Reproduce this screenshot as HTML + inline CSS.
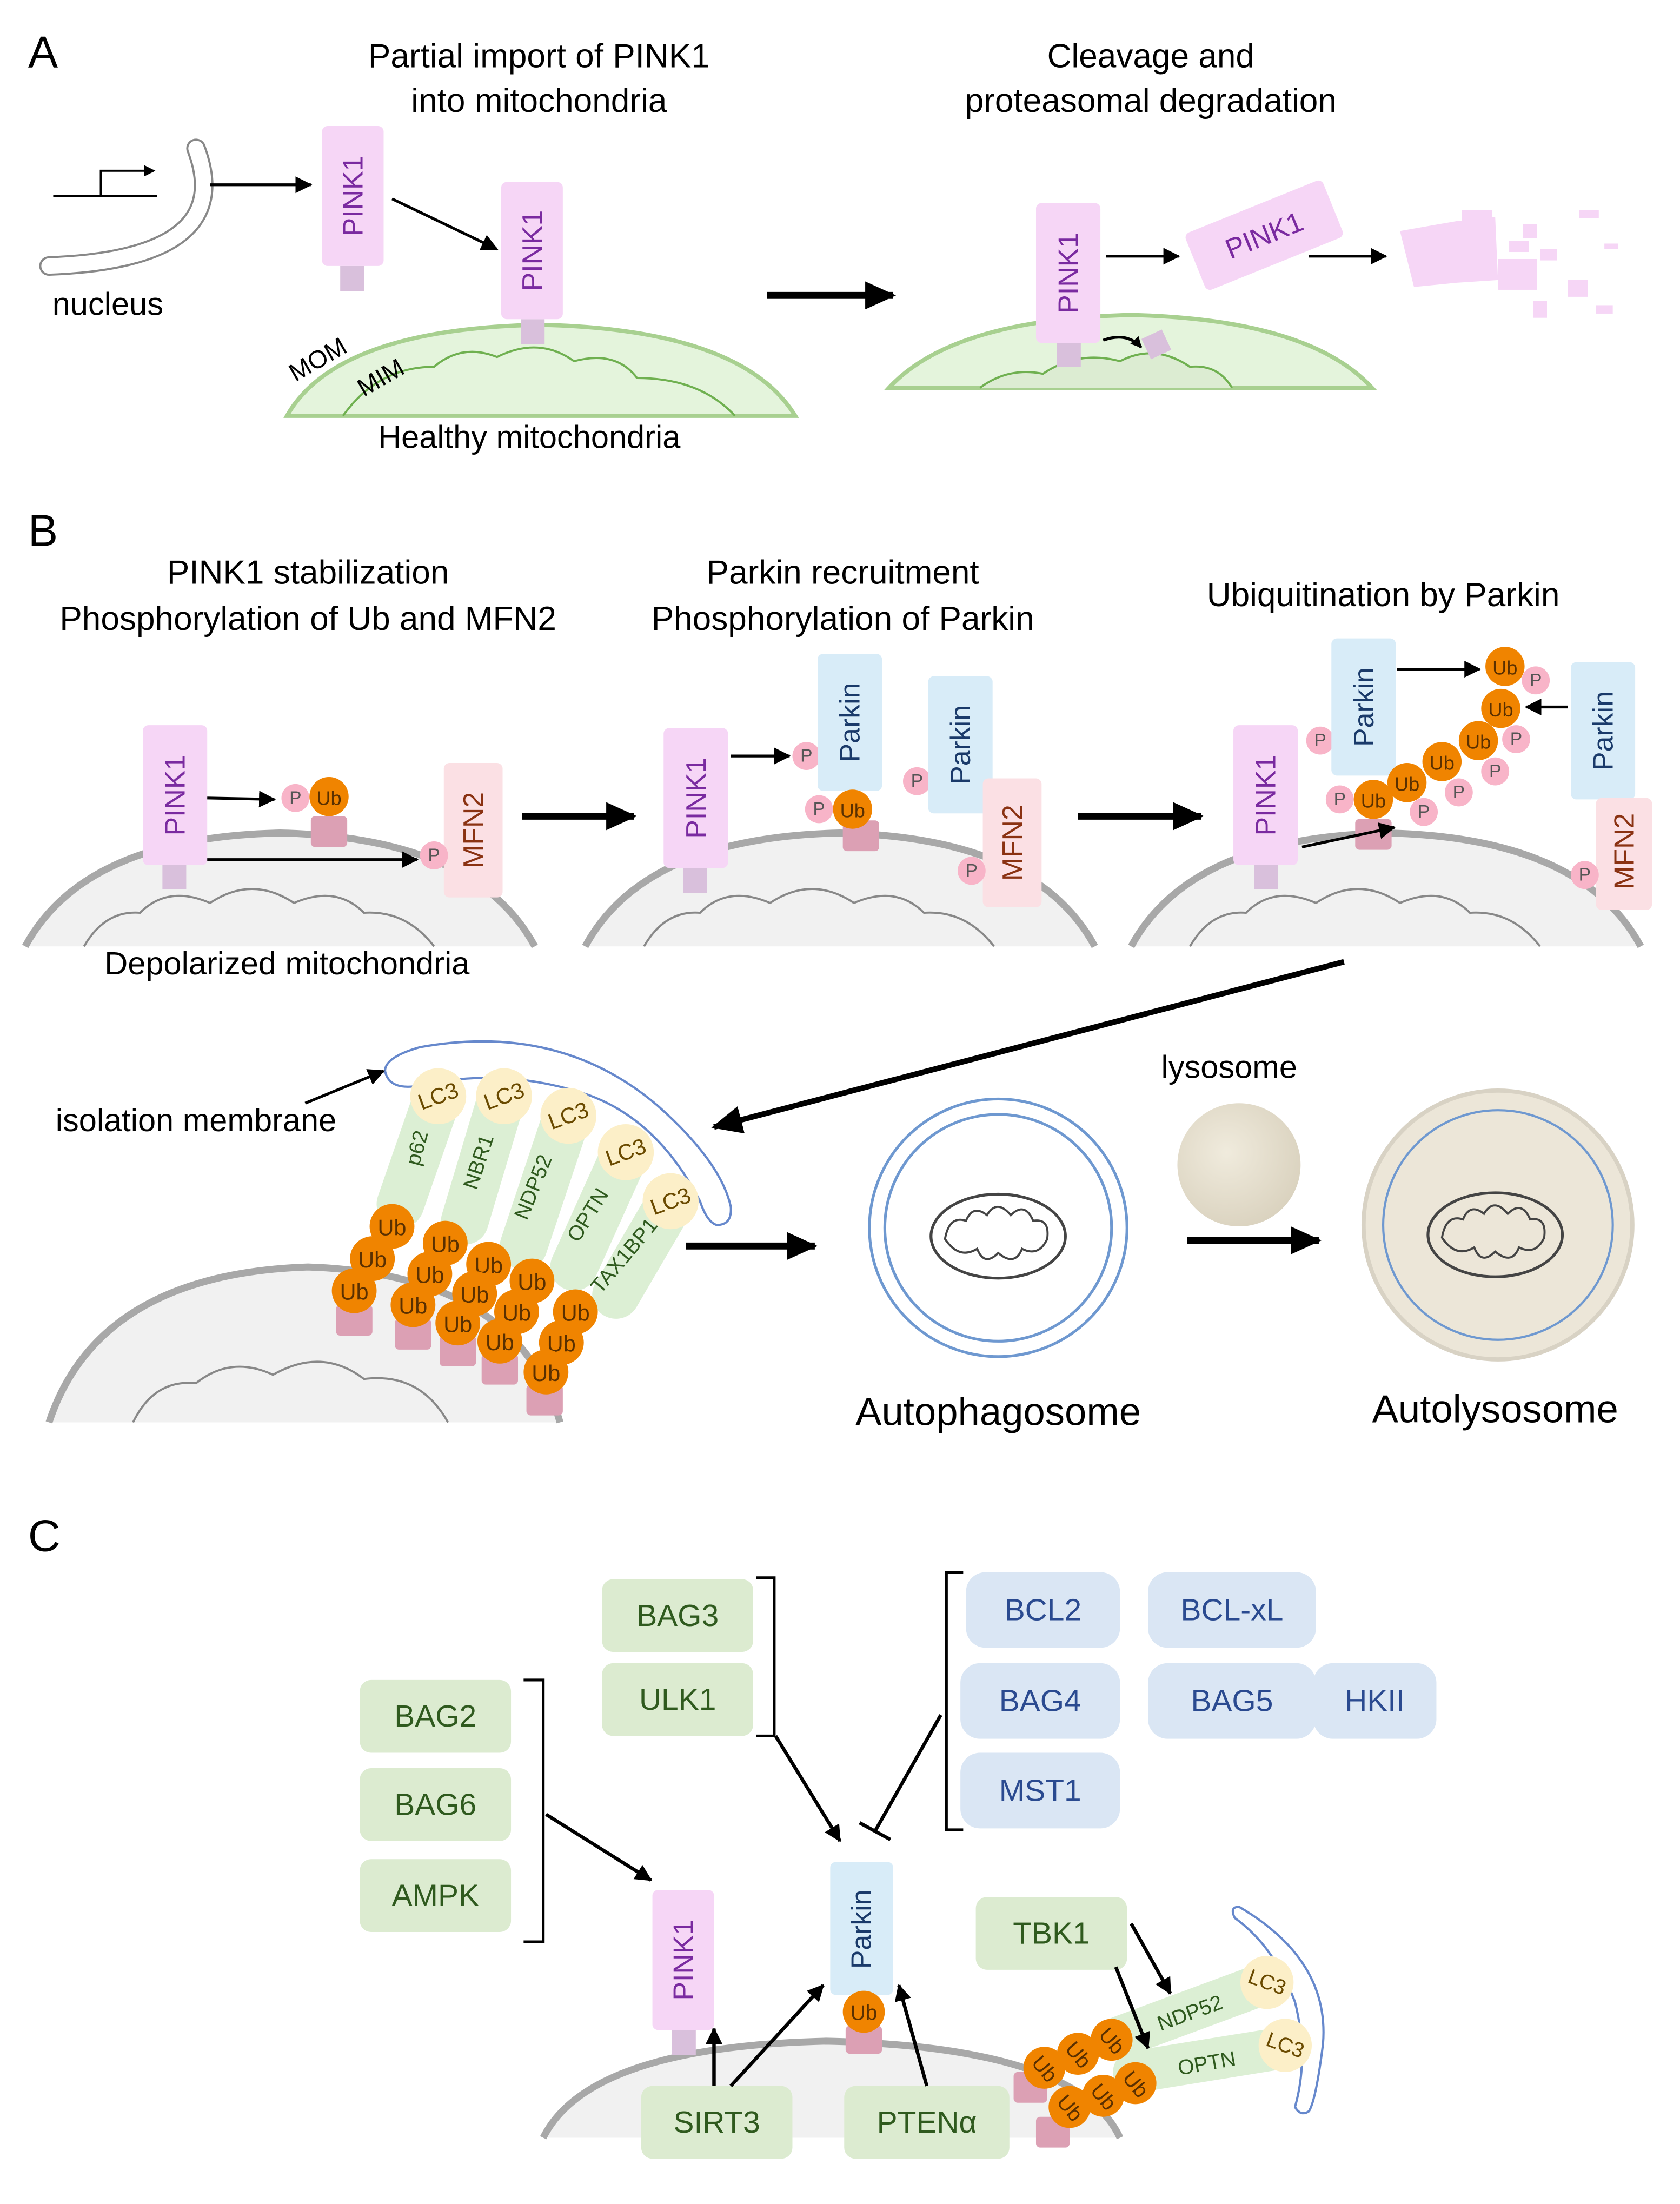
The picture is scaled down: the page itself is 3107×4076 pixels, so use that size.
<!DOCTYPE html>
<html><head><meta charset="utf-8"><style>
html,body{margin:0;padding:0;background:#fff}
svg{display:block}
text{font-family:"Liberation Sans",Arial,sans-serif}
</style></head><body>
<svg xmlns="http://www.w3.org/2000/svg" width="3107" height="4076" viewBox="0 0 1200 1574.3">
<defs>
<marker id="ah" markerWidth="8" markerHeight="8" refX="7" refY="4" orient="auto" markerUnits="userSpaceOnUse" viewBox="0 0 8 8"><path d="M0,0 L8,4 L0,8 z" fill="#000"/></marker>
<marker id="ahs" markerWidth="12" markerHeight="12" refX="11" refY="6" orient="auto" markerUnits="userSpaceOnUse" viewBox="0 0 12 12"><path d="M0,0 L12,6 L0,12 z" fill="#000"/></marker>
<marker id="ahb" markerWidth="22" markerHeight="20" refX="20" refY="10" orient="auto" markerUnits="userSpaceOnUse" viewBox="0 0 22 20"><path d="M0,0 L22,10 L0,20 z" fill="#000"/></marker>
<radialGradient id="lys" cx="0.4" cy="0.4" r="0.7"><stop offset="0" stop-color="#f0ebdd"/><stop offset="1" stop-color="#d8d0bc"/></radialGradient>
</defs>

<!-- ========== PANEL A ========== -->
<text x="20" y="48" font-size="32">A</text>
<text x="385" y="48" font-size="24" text-anchor="middle">Partial import of PINK1</text>
<text x="385" y="80" font-size="24" text-anchor="middle">into mitochondria</text>
<text x="822" y="48" font-size="24" text-anchor="middle">Cleavage and</text>
<text x="822" y="80" font-size="24" text-anchor="middle">proteasomal degradation</text>

<line x1="38" y1="140" x2="112" y2="140" stroke="#000" stroke-width="1.5"/>
<path d="M72,140 V122 H110" fill="none" stroke="#000" stroke-width="1.5" marker-end="url(#ah)"/>
<path d="M140,106 Q170,185 35,190" fill="none" stroke="#888" stroke-width="14" stroke-linecap="round"/>
<path d="M140,106 Q170,185 35,190" fill="none" stroke="#fff" stroke-width="11" stroke-linecap="round"/>
<text x="77" y="225" font-size="23" text-anchor="middle">nucleus</text>
<line x1="150" y1="132" x2="222" y2="132" stroke="#000" stroke-width="2" marker-end="url(#ahs)"/>

<path d="M205,297 Q240,235 385,232 Q530,235 568,297 Z" fill="#e4f4dc" stroke="#a8d090" stroke-width="3"/>
<path d="M245,297 Q270,262 310,262 Q330,245 355,255 Q385,240 410,258 Q440,250 455,270 Q500,270 525,297" fill="none" stroke="#6fb050" stroke-width="1.5"/>
<text x="230" y="262" font-size="18" transform="rotate(-30 230 262)" text-anchor="middle">MOM</text>
<text x="275" y="275" font-size="18" transform="rotate(-30 275 275)" text-anchor="middle">MIM</text>
<text x="378" y="320" font-size="23" text-anchor="middle">Healthy mitochondria</text>

<rect x="243" y="190" width="17" height="18" fill="#d9c0dc"/>
<rect x="230" y="90" width="44" height="100" rx="4" fill="#f6d6f6"/>
<text x="252" y="140" font-size="20" fill="#7a2aa0" text-anchor="middle" dominant-baseline="central" transform="rotate(-90 252 140)">PINK1</text>
<line x1="280" y1="142" x2="355" y2="178" stroke="#000" stroke-width="2" marker-end="url(#ahs)"/>
<rect x="372" y="228" width="17" height="18" fill="#d9c0dc"/>
<rect x="358" y="130" width="44" height="98" rx="4" fill="#f6d6f6"/>
<text x="380" y="179" font-size="20" fill="#7a2aa0" text-anchor="middle" dominant-baseline="central" transform="rotate(-90 380 179)">PINK1</text>

<line x1="548" y1="211" x2="638" y2="211" stroke="#000" stroke-width="5" marker-end="url(#ahb)"/>

<path d="M635,277 Q680,228 808,225 Q935,228 980,277 Z" fill="#e4f4dc" stroke="#a8d090" stroke-width="3"/>
<path d="M700,277 Q720,262 745,267 Q770,250 800,258 Q825,245 850,262 Q870,260 880,277" fill="#dcecd2" stroke="#6fb050" stroke-width="1.5"/>
<rect x="755" y="245" width="17" height="17" fill="#d9c0dc"/>
<rect x="740" y="145" width="46" height="100" rx="4" fill="#f6d6f6"/>
<text x="763" y="195" font-size="20" fill="#7a2aa0" text-anchor="middle" dominant-baseline="central" transform="rotate(-90 763 195)">PINK1</text>
<rect x="818" y="238" width="16" height="16" fill="#d9c0dc" transform="rotate(-25 826 246)"/>
<path d="M788,243 Q805,237 815,248" fill="none" stroke="#000" stroke-width="2" marker-end="url(#ah)"/>
<line x1="790" y1="183" x2="842" y2="183" stroke="#000" stroke-width="2" marker-end="url(#ahs)"/>
<g transform="rotate(-22 903 168)"><rect x="850" y="146" width="106" height="44" rx="4" fill="#f6d6f6"/>
<text x="903" y="168" font-size="20" fill="#7a2aa0" text-anchor="middle" dominant-baseline="central">PINK1</text></g>
<line x1="935" y1="183" x2="990" y2="183" stroke="#000" stroke-width="2" marker-end="url(#ahs)"/>
<g fill="#f6d6f6">
<path d="M1000,165 L1040,158 L1068,155 L1070,200 L1040,202 L1010,205 Z"/>
<rect x="1044" y="150" width="22" height="14"/>
<rect x="1070" y="185" width="28" height="22"/>
<rect x="1088" y="160" width="10" height="10"/>
<rect x="1100" y="178" width="12" height="8"/>
<rect x="1120" y="200" width="14" height="12"/>
<rect x="1128" y="150" width="14" height="6"/>
<rect x="1095" y="215" width="10" height="12"/>
<rect x="1140" y="218" width="12" height="6"/>
<rect x="1146" y="174" width="10" height="4"/>
<rect x="1078" y="172" width="14" height="8"/>
</g>

<!-- ========== PANEL B ========== -->
<text x="20" y="390" font-size="32">B</text>
<text x="220" y="417" font-size="24" text-anchor="middle">PINK1 stabilization</text>
<text x="220" y="450" font-size="24" text-anchor="middle">Phosphorylation of Ub and MFN2</text>
<text x="602" y="417" font-size="24" text-anchor="middle">Parkin recruitment</text>
<text x="602" y="450" font-size="24" text-anchor="middle">Phosphorylation of Parkin</text>
<text x="988" y="433" font-size="24" text-anchor="middle">Ubiquitination by Parkin</text>

<g fill="#f1f1f1" stroke="#a8a8a8" stroke-width="5">
<path d="M18,676 Q60,598 200,595 Q340,598 382,676"/>
<path d="M418,676 Q460,598 600,595 Q740,598 782,676"/>
<path d="M808,676 Q850,598 990,595 Q1130,598 1172,676"/>
</g>
<g fill="none" stroke="#888" stroke-width="1.5">
<path d="M60,676 Q75,650 100,652 Q120,632 150,645 Q180,625 210,645 Q240,632 260,652 Q290,650 310,676"/>
<path d="M460,676 Q475,650 500,652 Q520,632 550,645 Q580,625 610,645 Q640,632 660,652 Q690,650 710,676"/>
<path d="M850,676 Q865,650 890,652 Q910,632 940,645 Q970,625 1000,645 Q1030,632 1050,652 Q1080,650 1100,676"/>
</g>
<text x="205" y="696" font-size="23" text-anchor="middle">Depolarized mitochondria</text>

<rect x="116" y="617" width="17" height="18" fill="#d9c0dc"/>
<rect x="102" y="518" width="46" height="100" rx="4" fill="#f6d6f6"/>
<text x="125" y="568" font-size="20" fill="#7a2aa0" text-anchor="middle" dominant-baseline="central" transform="rotate(-90 125 568)">PINK1</text>
<line x1="148" y1="570" x2="196" y2="571" stroke="#000" stroke-width="2" marker-end="url(#ahs)"/>
<rect x="222" y="583" width="26" height="22" rx="3" fill="#dca0b4"/>
<circle cx="211" cy="570" r="10" fill="#f8b4c8"/><text x="211" y="570" font-size="13" fill="#555" text-anchor="middle" dominant-baseline="central">P</text>
<circle cx="235" cy="569" r="14" fill="#f08400"/><text x="235" y="570" font-size="14" fill="#5a3000" text-anchor="middle" dominant-baseline="central">Ub</text>
<line x1="148" y1="614" x2="298" y2="614" stroke="#000" stroke-width="2" marker-end="url(#ahs)"/>
<rect x="317" y="545" width="42" height="96" rx="4" fill="#fbe0e4"/>
<text x="338" y="593" font-size="20" fill="#8a3212" text-anchor="middle" dominant-baseline="central" transform="rotate(-90 338 593)">MFN2</text>
<circle cx="310" cy="611" r="10" fill="#f8b4c8"/><text x="310" y="611" font-size="13" fill="#555" text-anchor="middle" dominant-baseline="central">P</text>

<line x1="373" y1="583" x2="453" y2="583" stroke="#000" stroke-width="5" marker-end="url(#ahb)"/>

<rect x="488" y="620" width="17" height="18" fill="#d9c0dc"/>
<rect x="474" y="520" width="46" height="100" rx="4" fill="#f6d6f6"/>
<text x="497" y="570" font-size="20" fill="#7a2aa0" text-anchor="middle" dominant-baseline="central" transform="rotate(-90 497 570)">PINK1</text>
<line x1="522" y1="540" x2="564" y2="540" stroke="#000" stroke-width="2" marker-end="url(#ahs)"/>
<circle cx="576" cy="540" r="10" fill="#f8b4c8"/><text x="576" y="540" font-size="13" fill="#555" text-anchor="middle" dominant-baseline="central">P</text>
<rect x="584" y="467" width="46" height="98" rx="4" fill="#d8ecf8"/>
<text x="607" y="516" font-size="20" fill="#1a3a6a" text-anchor="middle" dominant-baseline="central" transform="rotate(-90 607 516)">Parkin</text>
<rect x="602" y="586" width="26" height="22" rx="3" fill="#dca0b4"/>
<circle cx="585" cy="578" r="10" fill="#f8b4c8"/><text x="585" y="578" font-size="13" fill="#555" text-anchor="middle" dominant-baseline="central">P</text>
<circle cx="609" cy="578" r="14" fill="#f08400"/><text x="609" y="579" font-size="14" fill="#5a3000" text-anchor="middle" dominant-baseline="central">Ub</text>
<circle cx="655" cy="558" r="10" fill="#f8b4c8"/><text x="655" y="558" font-size="13" fill="#555" text-anchor="middle" dominant-baseline="central">P</text>
<rect x="663" y="483" width="46" height="98" rx="4" fill="#d8ecf8"/>
<text x="686" y="532" font-size="20" fill="#1a3a6a" text-anchor="middle" dominant-baseline="central" transform="rotate(-90 686 532)">Parkin</text>
<rect x="702" y="556" width="42" height="92" rx="4" fill="#fbe0e4"/>
<text x="723" y="602" font-size="20" fill="#8a3212" text-anchor="middle" dominant-baseline="central" transform="rotate(-90 723 602)">MFN2</text>
<circle cx="694" cy="622" r="10" fill="#f8b4c8"/><text x="694" y="622" font-size="13" fill="#555" text-anchor="middle" dominant-baseline="central">P</text>

<line x1="770" y1="583" x2="858" y2="583" stroke="#000" stroke-width="5" marker-end="url(#ahb)"/>

<rect x="896" y="617" width="17" height="18" fill="#d9c0dc"/>
<rect x="881" y="518" width="46" height="100" rx="4" fill="#f6d6f6"/>
<text x="904" y="568" font-size="20" fill="#7a2aa0" text-anchor="middle" dominant-baseline="central" transform="rotate(-90 904 568)">PINK1</text>
<rect x="968" y="585" width="26" height="22" rx="3" fill="#dca0b4"/>
<line x1="930" y1="605" x2="996" y2="591" stroke="#000" stroke-width="2" marker-end="url(#ahs)"/>
<circle cx="943" cy="529" r="10" fill="#f8b4c8"/><text x="943" y="529" font-size="13" fill="#555" text-anchor="middle" dominant-baseline="central">P</text>
<rect x="951" y="456" width="46" height="98" rx="4" fill="#d8ecf8"/>
<text x="974" y="505" font-size="20" fill="#1a3a6a" text-anchor="middle" dominant-baseline="central" transform="rotate(-90 974 505)">Parkin</text>
<line x1="998" y1="478" x2="1057" y2="478" stroke="#000" stroke-width="2" marker-end="url(#ahs)"/>
<rect x="1122" y="473" width="46" height="98" rx="4" fill="#d8ecf8"/>
<text x="1145" y="522" font-size="20" fill="#1a3a6a" text-anchor="middle" dominant-baseline="central" transform="rotate(-90 1145 522)">Parkin</text>
<line x1="1120" y1="505" x2="1090" y2="505" stroke="#000" stroke-width="2" marker-end="url(#ahs)"/>
<rect x="1140" y="570" width="40" height="80" rx="4" fill="#fbe0e4"/>
<text x="1160" y="608" font-size="20" fill="#8a3212" text-anchor="middle" dominant-baseline="central" transform="rotate(-90 1160 608)">MFN2</text>
<circle cx="1132" cy="625" r="10" fill="#f8b4c8"/><text x="1132" y="625" font-size="13" fill="#555" text-anchor="middle" dominant-baseline="central">P</text>
<g font-size="13" fill="#555" text-anchor="middle" dominant-baseline="central">
<circle cx="1097" cy="486" r="10" fill="#f8b4c8"/><text x="1097" y="486">P</text>
<circle cx="1083" cy="528" r="10" fill="#f8b4c8"/><text x="1083" y="528">P</text>
<circle cx="1068" cy="551" r="10" fill="#f8b4c8"/><text x="1068" y="551">P</text>
<circle cx="1042" cy="566" r="10" fill="#f8b4c8"/><text x="1042" y="566">P</text>
<circle cx="1017" cy="580" r="10" fill="#f8b4c8"/><text x="1017" y="580">P</text>
<circle cx="957" cy="571" r="10" fill="#f8b4c8"/><text x="957" y="571">P</text>
</g>
<g font-size="14" fill="#5a3000" text-anchor="middle" dominant-baseline="central">
<circle cx="1075" cy="476" r="14" fill="#f08400"/><text x="1075" y="477">Ub</text>
<circle cx="1072" cy="506" r="14" fill="#f08400"/><text x="1072" y="507">Ub</text>
<circle cx="1056" cy="529" r="14" fill="#f08400"/><text x="1056" y="530">Ub</text>
<circle cx="1030" cy="544" r="14" fill="#f08400"/><text x="1030" y="545">Ub</text>
<circle cx="1005" cy="559" r="14" fill="#f08400"/><text x="1005" y="560">Ub</text>
<circle cx="981" cy="571" r="14" fill="#f08400"/><text x="981" y="572">Ub</text>
</g>

<line x1="960" y1="687" x2="510" y2="805" stroke="#000" stroke-width="4" marker-end="url(#ahb)"/>

<path d="M35,1016 Q70,910 220,905 Q370,910 400,1016" fill="#f1f1f1" stroke="#a8a8a8" stroke-width="5"/>
<path d="M95,1016 Q110,985 140,988 Q165,968 195,982 Q230,962 260,985 Q300,980 320,1016" fill="none" stroke="#888" stroke-width="1.5"/>

<path d="M275,765 Q275,755 300,748 Q400,730 470,790 Q515,830 522,862 Q523,875 512,875 Q505,873 500,858 Q470,800 420,782 Q360,762 302,775 Q278,780 275,765 Z" fill="none" stroke="#6688cc" stroke-width="1.6"/>
<text x="140" y="808" font-size="23" text-anchor="middle">isolation membrane</text>
<line x1="218" y1="788" x2="274" y2="765" stroke="#000" stroke-width="2" marker-end="url(#ahs)"/>

<g stroke="#dcefd4" stroke-width="34" stroke-linecap="round">
<line x1="286" y1="860" x2="312" y2="785"/>
<line x1="332" y1="872" x2="358" y2="785"/>
<line x1="374" y1="890" x2="404" y2="800"/>
<line x1="410" y1="905" x2="446" y2="825"/>
<line x1="440" y1="925" x2="478" y2="860"/>
</g>
<g font-size="15" fill="#2f5a1e" text-anchor="middle" dominant-baseline="central">
<text x="298" y="820" transform="rotate(-75 298 820)">p62</text>
<text x="342" y="830" transform="rotate(-72 342 830)">NBR1</text>
<text x="381" y="848" transform="rotate(-68 381 848)">NDP52</text>
<text x="420" y="868" transform="rotate(-58 420 868)">OPTN</text>
<text x="446" y="897" transform="rotate(-50 446 897)">TAX1BP1</text>
</g>
<g font-size="16" fill="#6a4a00" text-anchor="middle" dominant-baseline="central">
<circle cx="313" cy="783" r="20" fill="#fcefc8"/><text x="313" y="783" transform="rotate(-20 313 783)">LC3</text>
<circle cx="360" cy="783" r="20" fill="#fcefc8"/><text x="360" y="783" transform="rotate(-20 360 783)">LC3</text>
<circle cx="406" cy="797" r="20" fill="#fcefc8"/><text x="406" y="797" transform="rotate(-20 406 797)">LC3</text>
<circle cx="447" cy="823" r="20" fill="#fcefc8"/><text x="447" y="823" transform="rotate(-20 447 823)">LC3</text>
<circle cx="479" cy="858" r="20" fill="#fcefc8"/><text x="479" y="858" transform="rotate(-20 479 858)">LC3</text>
</g>
<g fill="#dca0b4">
<rect x="240" y="932" width="26" height="22" rx="3"/>
<rect x="282" y="942" width="26" height="22" rx="3"/>
<rect x="314" y="954" width="26" height="22" rx="3"/>
<rect x="344" y="967" width="26" height="22" rx="3"/>
<rect x="376" y="989" width="26" height="22" rx="3"/>
</g>
<g font-size="16" fill="#5a3000" text-anchor="middle" dominant-baseline="central">
<circle cx="280" cy="876" r="16" fill="#f08400"/><text x="280" y="877">Ub</text>
<circle cx="266" cy="899" r="16" fill="#f08400"/><text x="266" y="900">Ub</text>
<circle cx="253" cy="922" r="16" fill="#f08400"/><text x="253" y="923">Ub</text>
<circle cx="318" cy="888" r="16" fill="#f08400"/><text x="318" y="889">Ub</text>
<circle cx="307" cy="910" r="16" fill="#f08400"/><text x="307" y="911">Ub</text>
<circle cx="295" cy="932" r="16" fill="#f08400"/><text x="295" y="933">Ub</text>
<circle cx="349" cy="903" r="16" fill="#f08400"/><text x="349" y="904">Ub</text>
<circle cx="339" cy="924" r="16" fill="#f08400"/><text x="339" y="925">Ub</text>
<circle cx="327" cy="945" r="16" fill="#f08400"/><text x="327" y="946">Ub</text>
<circle cx="380" cy="915" r="16" fill="#f08400"/><text x="380" y="916">Ub</text>
<circle cx="369" cy="937" r="16" fill="#f08400"/><text x="369" y="938">Ub</text>
<circle cx="357" cy="958" r="16" fill="#f08400"/><text x="357" y="959">Ub</text>
<circle cx="411" cy="937" r="16" fill="#f08400"/><text x="411" y="938">Ub</text>
<circle cx="401" cy="959" r="16" fill="#f08400"/><text x="401" y="960">Ub</text>
<circle cx="390" cy="980" r="16" fill="#f08400"/><text x="390" y="981">Ub</text>
</g>

<line x1="490" y1="890" x2="582" y2="890" stroke="#000" stroke-width="5" marker-end="url(#ahb)"/>

<circle cx="713" cy="877" r="92" fill="#fff" stroke="#6e98d0" stroke-width="2"/>
<circle cx="713" cy="877" r="81" fill="#fff" stroke="#6e98d0" stroke-width="2"/>
<ellipse cx="713" cy="883" rx="48" ry="30" fill="#fff" stroke="#444" stroke-width="2"/>
<path d="M675,885 Q678,868 690,872 Q695,860 705,868 Q712,856 722,868 Q732,858 738,872 Q750,870 748,885 Q742,898 730,892 Q725,905 713,895 Q703,905 698,892 Q685,900 675,885 Z" fill="none" stroke="#444" stroke-width="1.5"/>
<text x="713" y="1018" font-size="28" text-anchor="middle">Autophagosome</text>

<text x="878" y="770" font-size="23" text-anchor="middle">lysosome</text>
<circle cx="885" cy="832" r="44" fill="url(#lys)"/>
<line x1="848" y1="886" x2="942" y2="886" stroke="#000" stroke-width="5" marker-end="url(#ahb)"/>

<circle cx="1070" cy="875" r="96" fill="#ece6d8" stroke="#d8d2c4" stroke-width="3"/>
<circle cx="1070" cy="875" r="82" fill="#ece6d8" stroke="#6e98d0" stroke-width="1.6"/>
<ellipse cx="1068" cy="882" rx="48" ry="30" fill="none" stroke="#444" stroke-width="2"/>
<path d="M1030,884 Q1033,867 1045,871 Q1050,859 1060,867 Q1067,855 1077,867 Q1087,857 1093,871 Q1105,869 1103,884 Q1097,897 1085,891 Q1080,904 1068,894 Q1058,904 1053,891 Q1040,899 1030,884 Z" fill="none" stroke="#444" stroke-width="1.5"/>
<text x="1068" y="1016" font-size="28" text-anchor="middle">Autolysosome</text>

<!-- ========== PANEL C ========== -->
<text x="20" y="1108" font-size="32">C</text>

<path d="M388,1527 Q420,1462 590,1458 Q770,1462 800,1527" fill="#f1f1f1" stroke="#a8a8a8" stroke-width="5"/>

<g fill="#dcebd0">
<rect x="430" y="1128" width="108" height="52" rx="8"/>
<rect x="430" y="1188" width="108" height="52" rx="8"/>
<rect x="257" y="1200" width="108" height="52" rx="8"/>
<rect x="257" y="1263" width="108" height="52" rx="8"/>
<rect x="257" y="1328" width="108" height="52" rx="8"/>
<rect x="697" y="1355" width="108" height="52" rx="8"/>
<rect x="458" y="1490" width="108" height="52" rx="8"/>
<rect x="603" y="1490" width="118" height="52" rx="8"/>
</g>
<g font-size="22" fill="#2f5a1e" text-anchor="middle" dominant-baseline="central">
<text x="484" y="1154">BAG3</text><text x="484" y="1214">ULK1</text>
<text x="311" y="1226">BAG2</text><text x="311" y="1289">BAG6</text><text x="311" y="1354">AMPK</text>
<text x="751" y="1381">TBK1</text><text x="512" y="1516">SIRT3</text><text x="662" y="1516">PTENα</text>
</g>
<g fill="#dae6f4">
<rect x="690" y="1123" width="110" height="54" rx="14"/>
<rect x="820" y="1123" width="120" height="54" rx="14"/>
<rect x="686" y="1188" width="114" height="54" rx="14"/>
<rect x="938" y="1188" width="88" height="54" rx="14"/>
<rect x="820" y="1188" width="120" height="54" rx="14"/>
<rect x="686" y="1252" width="114" height="54" rx="14"/>
</g>
<g font-size="22" fill="#2a4a90" text-anchor="middle" dominant-baseline="central">
<text x="745" y="1150">BCL2</text><text x="880" y="1150">BCL-xL</text>
<text x="743" y="1215">BAG4</text><text x="880" y="1215">BAG5</text><text x="982" y="1215">HKII</text>
<text x="743" y="1279">MST1</text>
</g>
<g fill="none" stroke="#000" stroke-width="2">
<path d="M540,1127 H553 V1240 H540"/>
<path d="M688,1123 H676 V1307 H688"/>
<path d="M374,1200 H388 V1387 H374"/>
</g>
<line x1="554" y1="1240" x2="600" y2="1315" stroke="#000" stroke-width="2.5" marker-end="url(#ahs)"/>
<line x1="672" y1="1225" x2="625" y2="1308" stroke="#000" stroke-width="2.5"/>
<line x1="614" y1="1302" x2="636" y2="1314" stroke="#000" stroke-width="2.5"/>
<line x1="390" y1="1296" x2="465" y2="1343" stroke="#000" stroke-width="2.5" marker-end="url(#ahs)"/>

<rect x="480" y="1450" width="17" height="18" fill="#d9c0dc"/>
<rect x="466" y="1350" width="44" height="100" rx="4" fill="#f6d6f6"/>
<text x="488" y="1400" font-size="20" fill="#7a2aa0" text-anchor="middle" dominant-baseline="central" transform="rotate(-90 488 1400)">PINK1</text>
<rect x="604" y="1447" width="26" height="20" rx="3" fill="#dca0b4"/>
<rect x="593" y="1330" width="45" height="95" rx="4" fill="#d8ecf8"/>
<text x="615" y="1378" font-size="20" fill="#1a3a6a" text-anchor="middle" dominant-baseline="central" transform="rotate(-90 615 1378)">Parkin</text>
<circle cx="617" cy="1437" r="15" fill="#f08400"/><text x="617" y="1438" font-size="15" fill="#5a3000" text-anchor="middle" dominant-baseline="central">Ub</text>
<line x1="510" y1="1490" x2="510" y2="1449" stroke="#000" stroke-width="2.5" marker-end="url(#ahs)"/>
<line x1="522" y1="1490" x2="588" y2="1418" stroke="#000" stroke-width="2.5" marker-end="url(#ahs)"/>
<line x1="662" y1="1490" x2="642" y2="1418" stroke="#000" stroke-width="2.5" marker-end="url(#ahs)"/>

<path d="M885,1362 Q950,1400 945,1460 Q940,1500 935,1508 Q929,1512 925,1505 Q935,1470 925,1430 Q910,1390 882,1370 Q878,1362 885,1362 Z" fill="none" stroke="#6688cc" stroke-width="1.6"/>
<g stroke="#dcefd4" stroke-width="30" stroke-linecap="round">
<line x1="800" y1="1455" x2="900" y2="1418"/>
<line x1="810" y1="1480" x2="915" y2="1463"/>
</g>
<text x="850" y="1438" font-size="15" fill="#2f5a1e" text-anchor="middle" dominant-baseline="central" transform="rotate(-20 850 1438)">NDP52</text>
<text x="862" y="1474" font-size="15" fill="#2f5a1e" text-anchor="middle" dominant-baseline="central" transform="rotate(-10 862 1474)">OPTN</text>
<circle cx="905" cy="1416" r="19" fill="#fcefc8"/><text x="905" y="1416" font-size="15" fill="#6a4a00" text-anchor="middle" dominant-baseline="central" transform="rotate(20 905 1416)">LC3</text>
<circle cx="918" cy="1461" r="19" fill="#fcefc8"/><text x="918" y="1461" font-size="15" fill="#6a4a00" text-anchor="middle" dominant-baseline="central" transform="rotate(20 918 1461)">LC3</text>
<rect x="724" y="1480" width="24" height="22" rx="3" fill="#dca0b4"/>
<rect x="740" y="1512" width="24" height="22" rx="3" fill="#dca0b4"/>
<g font-size="15" fill="#5a3000" text-anchor="middle" dominant-baseline="central">
<circle cx="746" cy="1477" r="15" fill="#f08400"/><text x="746" y="1478" transform="rotate(50 746 1478)">Ub</text>
<circle cx="770" cy="1467" r="15" fill="#f08400"/><text x="770" y="1468" transform="rotate(50 770 1468)">Ub</text>
<circle cx="794" cy="1457" r="15" fill="#f08400"/><text x="794" y="1458" transform="rotate(50 794 1458)">Ub</text>
<circle cx="764" cy="1505" r="15" fill="#f08400"/><text x="764" y="1506" transform="rotate(50 764 1506)">Ub</text>
<circle cx="788" cy="1497" r="15" fill="#f08400"/><text x="788" y="1498" transform="rotate(50 788 1498)">Ub</text>
<circle cx="811" cy="1488" r="15" fill="#f08400"/><text x="811" y="1489" transform="rotate(50 811 1489)">Ub</text>
</g>
<line x1="808" y1="1374" x2="836" y2="1424" stroke="#000" stroke-width="2.5" marker-end="url(#ahs)"/>
<line x1="797" y1="1405" x2="820" y2="1463" stroke="#000" stroke-width="2.5" marker-end="url(#ahs)"/>
</svg>
</body></html>
